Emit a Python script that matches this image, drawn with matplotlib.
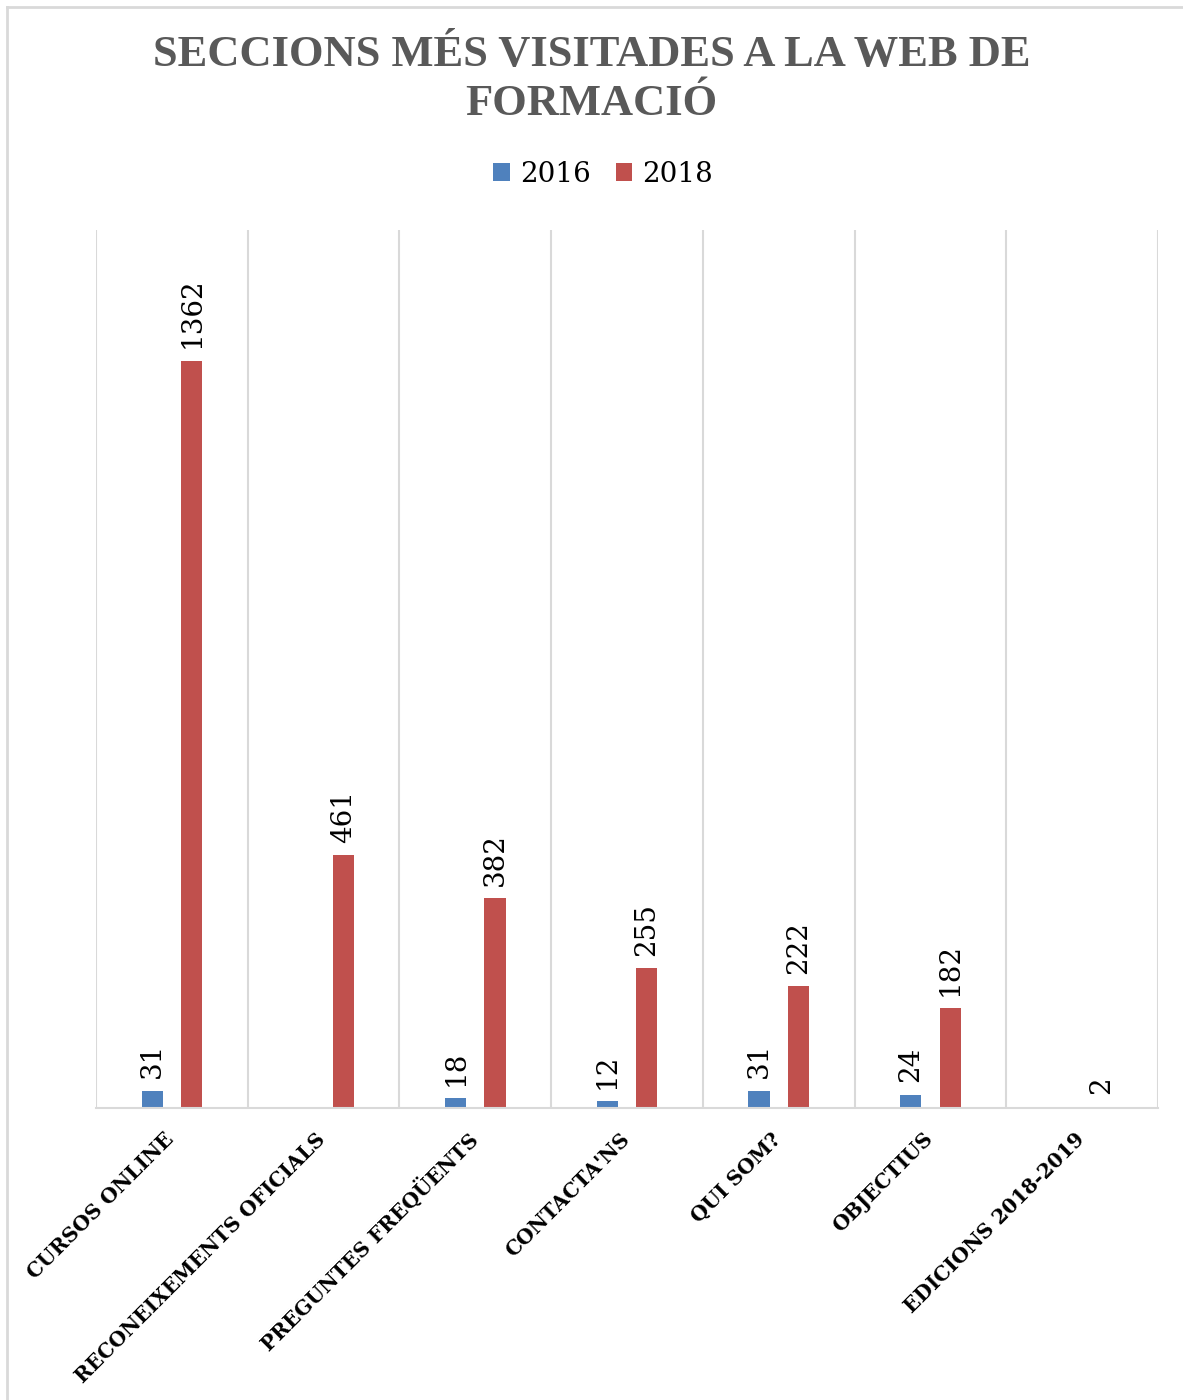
import numpy as np
import matplotlib
matplotlib.use("Agg")
import matplotlib.pyplot as plt
import matplotlib.transforms as mtransforms
from matplotlib.lines import Line2D

categories = ["CURSOS ONLINE", "RECONEIXEMENTS OFICIALS", "PREGUNTES FREQÜENTS",
              "CONTACTA'NS", "QUI SOM?", "OBJECTIUS", "EDICIONS 2018-2019"]
visits_2016 = [31, 0, 18, 12, 31, 24, 0]
visits_2018 = [1362, 461, 382, 255, 222, 182, 2]
labels_2016 = ["31", "", "18", "12", "31", "24", ""]
labels_2018 = ["1362", "461", "382", "255", "222", "182", "2"]

blue = "#4f81bd"
red = "#c0504d"
grid = "#d9d9d9"
serif = ["Liberation Serif", "DejaVu Serif"]
wide = ["DejaVu Serif"]

fig = plt.figure(figsize=(11.83, 14), dpi=100)
ax = fig.add_axes([96 / 1183, 1 - 1108 / 1400, (1158 - 96) / 1183, (1108 - 230) / 1400])

x = np.arange(len(categories))
w = 0.14
off = 0.13
b1 = ax.bar(x - off, visits_2016, w, color=blue, label="2016")
b2 = ax.bar(x + off, visits_2018, w, color=red, label="2018")

for rect, lab in zip(b1, labels_2016):
    if lab:
        ax.annotate(lab, (rect.get_x() + rect.get_width() / 2, rect.get_height()),
                    xytext=(0, 9), textcoords="offset points", rotation=90,
                    ha="center", va="bottom", fontsize=20, family=wide)
for rect, lab in zip(b2, labels_2018):
    ax.annotate(lab, (rect.get_x() + rect.get_width() / 2, rect.get_height()),
                xytext=(0, 9), textcoords="offset points", rotation=90,
                ha="center", va="bottom", fontsize=20, family=wide)

ax.set_xlim(-0.5, len(categories) - 0.5)
ax.set_ylim(0, 1600)
ax.set_yticks([])
for b in np.arange(-0.5, len(categories), 1.0):
    ax.axvline(b, color=grid, lw=1.5, zorder=0)
for s in ["top", "left", "right"]:
    ax.spines[s].set_visible(False)
ax.spines["bottom"].set_color(grid)
ax.spines["bottom"].set_linewidth(1.5)

ax.set_xticks(x)
ax.set_xticklabels(categories, rotation=45, ha="right", rotation_mode="anchor",
                   fontsize=14.5, fontweight="bold", family=wide)
ax.tick_params(axis="x", length=0, pad=15)
# nudge the slanted labels a little to the left
shift = mtransforms.ScaledTranslation(-8 / 100, 0, fig.dpi_scale_trans)
for lab in ax.get_xticklabels():
    lab.set_transform(lab.get_transform() + shift)

fig.text(0.5, 1 - 55 / 1400, "SECCIONS MÉS VISITADES A LA WEB DE", ha="center", va="center",
         fontsize=32, fontweight="bold", color="#595959", family=serif)
fig.text(0.5, 1 - 104 / 1400, "FORMACIÓ", ha="center", va="center",
         fontsize=32, fontweight="bold", color="#595959", family=serif)

fig.legend(handles=[b1, b2], labels=["2016", "2018"], loc="center",
           bbox_to_anchor=(603 / 1183, 1 - 174 / 1400), ncol=2, frameon=False,
           prop={"family": wide, "size": 20}, handlelength=0.6, handleheight=0.6,
           handletextpad=0.35, columnspacing=0.9)

fig.add_artist(Line2D([7 / 1183, 1], [1 - 7 / 1400, 1 - 7 / 1400], color=grid, lw=2,
                      transform=fig.transFigure))
fig.add_artist(Line2D([7 / 1183, 7 / 1183], [0, 1 - 7 / 1400], color=grid, lw=2,
                      transform=fig.transFigure))

fig.savefig("out.png", dpi=100)
